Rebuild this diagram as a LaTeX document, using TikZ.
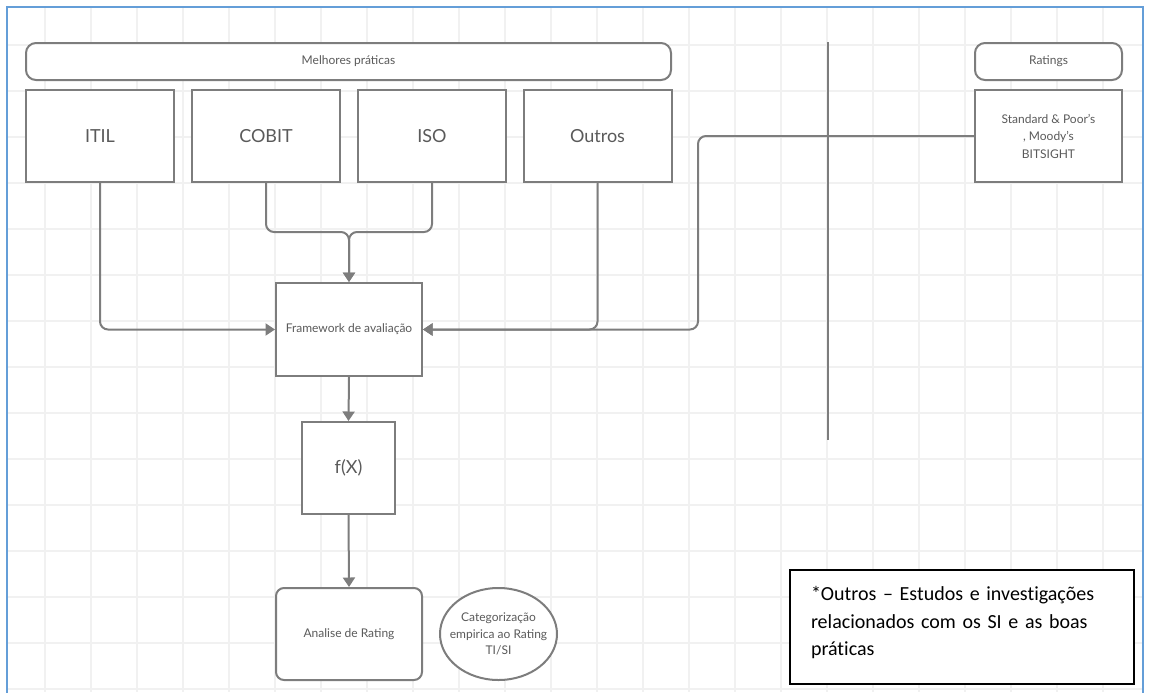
\documentclass[tikz,border=0pt]{standalone}
\usepackage{fontspec}
\setmainfont{Lato}
\newfontfamily\notefont[Ligatures=NoCommon]{Carlito}
\usetikzlibrary{arrows.meta, shapes.geometric}

\definecolor{linegray}{RGB}{125,125,125}
\definecolor{textgray}{RGB}{90,90,90}
\definecolor{gridgray}{RGB}{241,241,241}
\definecolor{frameblue}{RGB}{100,158,216}

\begin{document}
\begin{tikzpicture}[x=0.5pt, y=-0.5pt,
		box/.style={draw=linegray, line width=1pt, fill=white, text=textgray, align=center, inner sep=1pt},
		bigbox/.style={box, minimum width=74pt, minimum height=46pt, font=\fontsize{9}{11}\selectfont},
		smallbox/.style={box, minimum width=73.5pt, minimum height=46pt, font=\fontsize{6}{8.75}\selectfont},
		header/.style={box, rounded corners=5pt, minimum height=18.5pt, font=\fontsize{6}{8}\selectfont},
		gridline/.style={draw=gridgray, line width=0.8pt},
		conn/.style={draw=linegray, line width=1pt, rounded corners=4pt},
		flow/.style={conn, -{Triangle[length=4.75pt, width=6pt]}}]
	\useasboundingbox (0,0) rectangle (1152,692);
	
	% Background grid
	\foreach \gx in {45,91,...,1143} {
		\draw[gridline] (\gx,7) -- (\gx,692);
	}
	\foreach \gy in {45,91,...,692} {
		\draw[gridline] (7,\gy) -- (1143,\gy);
	}
	
	% Page frame
	\draw[frameblue, line width=1pt] (7,700) -- (7,7) -- (1143,7) -- (1143,700);
	
	% Best practices
	\node[header, minimum width=322.5pt] (best) at (348.5,61.5) {Melhores práticas};
	\node[bigbox] (itil) at (100,136) {ITIL};
	\node[bigbox] (cobit) at (266,136) {COBIT};
	\node[bigbox] (iso) at (432,136) {ISO};
	\node[bigbox] (outros) at (597.5,136) {Outros};
	
	% Ratings
	\node[header, minimum width=73.5pt] (ratings) at (1048.5,61.5) {Ratings};
	\node[smallbox] (std) at (1048.5,136) {Standard \& Poor's\\, Moody's\\BITSIGHT};
	
	% Divider
	\coordinate (divtop) at (828,42);
	\coordinate (divbot) at (828,440);
	\draw[conn] (divtop) -- (divbot);
	
	% Evaluation chain
	\node[smallbox, minimum width=73pt, minimum height=46.5pt] (fw) at (349,329.5) {Framework de avaliação};
	\node[bigbox, minimum width=46.5pt] (fx) at (348.5,468) {f(X)};
	\node[smallbox, minimum width=73pt, rounded corners=4pt] (analise) at (349,634) {Analise de Rating};
	\node[box, ellipse, minimum width=58.5pt, minimum height=46pt, inner sep=0pt] (categ) at (498.5,634) {};
	\node[text=textgray, align=center, inner sep=0pt,
		font=\fontsize{6}{8.3}\selectfont] (categtext) at (categ) {Categorização\\empirica ao Rating\\TI/SI};
	
	% Connectors
	\coordinate (join) at (349,232);
	\coordinate (bend) at (698,136);
	\draw[flow] (itil.south) |- (fw.west);
	\draw[flow] (cobit.south) |- (join) -- (fw.north);
	\draw[flow] (iso.south) |- (join) -- (fw.north);
	\draw[flow] (outros.south) |- (fw.east);
	\draw[flow] (std.west) -- (bend) |- (fw.east);
	\draw[flow] (fw.south) -- (fx.north);
	\draw[flow] (fx.south) -- (analise.north);
	
	% Note
	\node[draw=black, line width=1pt, fill=white, anchor=north west, align=left,
		text width=151pt, inner xsep=10.5pt, minimum height=57pt,
		font=\notefont\fontsize{10}{13.75}\selectfont] (note) at (789,569)
		{*Outros – Estudos e investigações\\relacionados com os SI e as boas\\práticas\rule[-6pt]{0pt}{0pt}};
\end{tikzpicture}
\end{document}
